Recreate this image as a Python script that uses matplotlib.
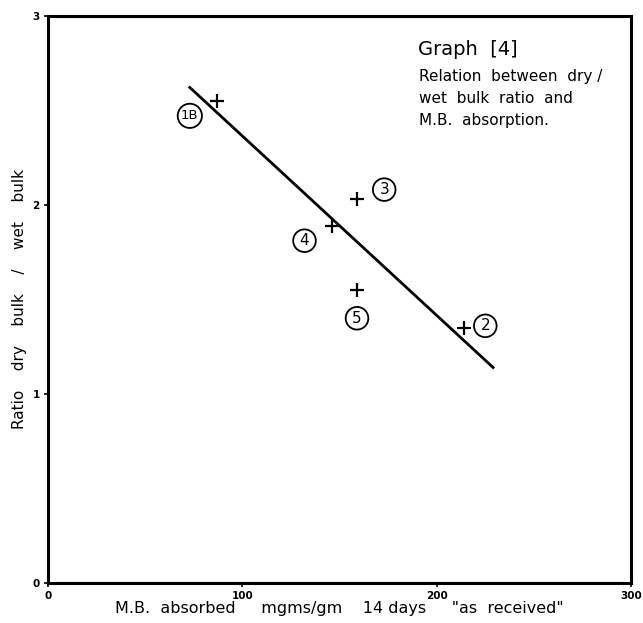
#! /usr/bin/python3

# dry/wet bulk ratio against M.B. absorption, hand-drawn style graph
import matplotlib
matplotlib.use('Agg')
import matplotlib.pyplot as plt

# samples: M.B. absorbed (mgms/gm) and dry bulk / wet bulk ratio
labels = ['1B', '3', '4', '5', '2']
absorbed = [87, 159, 146, 159, 214]
ratio = [2.55, 2.03, 1.89, 1.55, 1.35]

# where each circled label sits, in data units
label_x = [73, 173, 132, 159, 225]
label_y = [2.47, 2.08, 1.81, 1.40, 1.36]

# hand fitted line
fit_x = [73, 229]
fit_y = [2.62, 1.14]

font = 'DejaVu Sans'

fig = plt.figure(figsize=(6.43, 6.23), dpi=100)
ax = fig.add_axes([0.0745, 0.064, 0.907, 0.911])

ax.plot(fit_x, fit_y, color='black', lw=2.0)
ax.scatter(absorbed, ratio, marker='+', s=110, color='black', linewidths=1.6, zorder=3)

for lab, x, y in zip(labels, label_x, label_y):
    fs = 9.5 if len(lab) > 1 else 11
    ax.text(x, y, lab, ha='center', va='center', fontsize=fs, family=font,
            bbox=dict(boxstyle='circle,pad=0.25', fc='white', ec='black', lw=1.3))

ax.set_xlim(0, 300)
ax.set_ylim(0, 3)
ax.set_xticks([0, 100, 200, 300])
ax.set_yticks([0, 1, 2, 3])
ax.tick_params(direction='out', length=3, width=1.2, labelsize=7.5, pad=3)
for t in ax.get_xticklabels() + ax.get_yticklabels():
    t.set_fontweight('bold')
for sp in ax.spines.values():
    sp.set_linewidth(2.2)

ax.set_xlabel('M.B.  absorbed     mgms/gm    14 days     "as  received"',
              fontsize=11.5, family=font, labelpad=0)
ax.set_ylabel('Ratio    dry    bulk    /    wet    bulk', fontsize=11, family=font, labelpad=4)

ax.text(0.72, 0.94, 'Graph  [4]', transform=ax.transAxes, ha='center',
        va='center', fontsize=14, family=font)
ax.text(0.636, 0.905, 'Relation  between  dry /\nwet  bulk  ratio  and\nM.B.  absorption.',
        transform=ax.transAxes, ha='left', va='top', fontsize=11, family=font,
        linespacing=1.55)

fig.savefig('out.png', dpi=100)
